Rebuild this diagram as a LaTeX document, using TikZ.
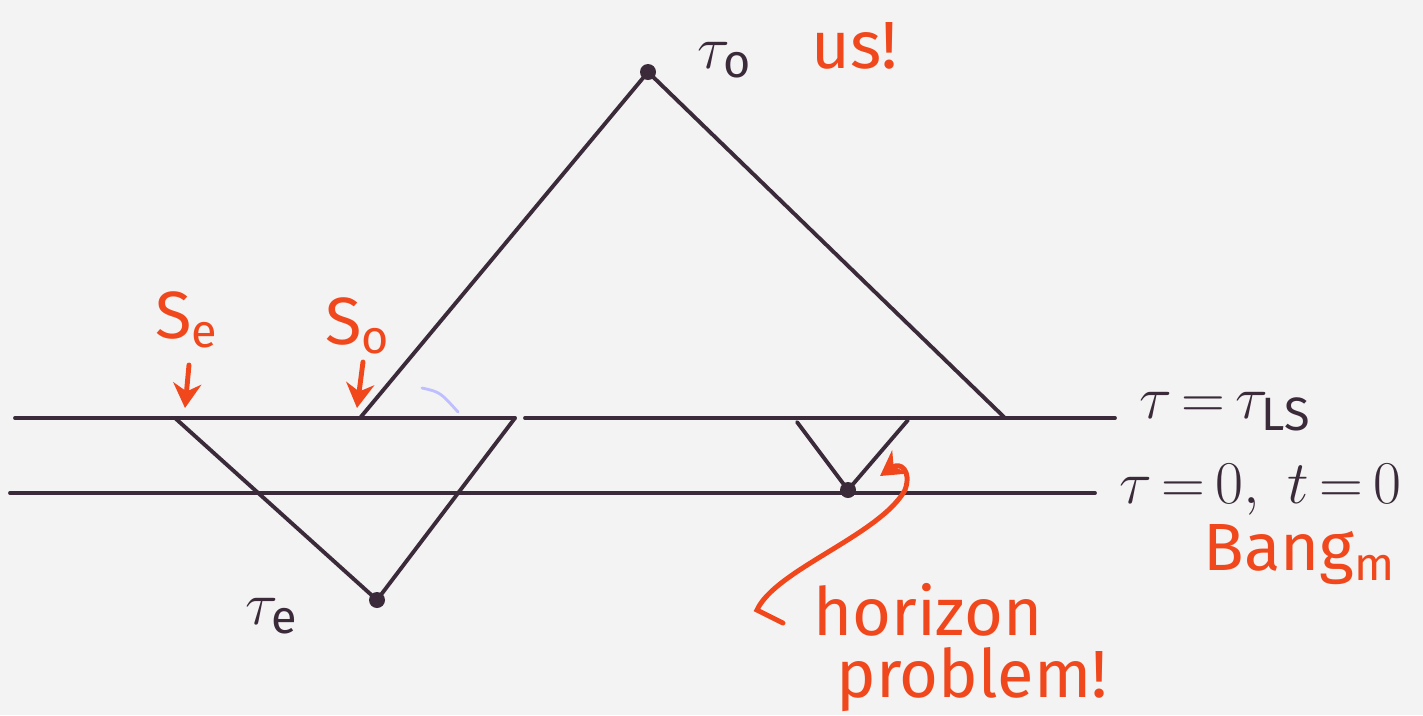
\documentclass[tikz,border=0pt]{standalone}
\usepackage{fontspec}
\setmainfont{Fira Sans}
\usetikzlibrary{arrows.meta,calc}
\definecolor{ink}{HTML}{3B2B3A}
\definecolor{pen}{HTML}{F0481C}
\definecolor{paper}{HTML}{F3F3F3}
\tikzset{
  wl/.style={draw=ink, line width=1.1pt, line cap=round},
  dot/.style={circle, fill=ink, inner sep=0pt, minimum size=0.16cm},
  blk/.style={text=ink, font=\fontsize{19}{21}\selectfont, inner sep=1pt},
  red/.style={text=pen, font=\fontsize{19}{21}\selectfont, inner sep=1pt},
  redarr/.style={draw=pen, line width=1.4pt, line cap=round, -{Stealth[length=7pt,width=8pt]}},
}
\begin{document}
\begin{tikzpicture}[x=1cm,y=1cm]
\useasboundingbox (0,0) rectangle (14.23,-7.15);
\fill[paper] (0,0) rectangle (14.23,-7.15);
% horizontal lines
\coordinate (ul) at (0.15,-4.18);
\coordinate (ug1) at (5.15,-4.18);
\coordinate (ug2) at (5.25,-4.18);
\coordinate (ur) at (11.15,-4.18);
\coordinate (ll) at (0.10,-4.93);
\coordinate (lr) at (10.95,-4.93);
\draw[wl] (ul) -- (ug1);
\draw[wl] (ug2) -- (ur);
\draw[wl] (ll) -- (lr);
% points
\node[dot] (t0) at (6.48,-0.72) {};
\node[dot] (te) at (3.77,-6.00) {};
\node[dot] (bh) at (8.48,-4.90) {};
\coordinate (so) at (3.60,-4.18);
\coordinate (sr) at (10.05,-4.18);
\coordinate (se) at (1.75,-4.18);
\coordinate (tr) at (5.15,-4.18);
\coordinate (va) at (7.97,-4.22);
\coordinate (vb) at (9.08,-4.20);
% light cones
\draw[wl] (so) -- (t0.center) -- (sr);
\draw[wl] (se) -- (te.center) -- (tr);
\draw[wl] (va) -- (bh.center) -- (vb);
% faint pencil stroke
\draw[blue!25, line width=0.8pt, line cap=round] (4.22,-3.88) .. controls (4.40,-3.92) .. (4.58,-4.12);
% labels
\node[blk] (lt0) at (7.25,-0.60) {$\tau_{\mathrm{o}}$};
\node[red] (lus) at (8.55,-0.46) {us!};
\node[red] (lse) at (1.87,-3.20) {S$_\mathrm{e}$};
\node[red] (lso) at (3.58,-3.26) {S$_\mathrm{o}$};
\node[blk, anchor=west] (lls) at (11.35,-4.12) {$\tau\,{=}\,\tau_{\mathrm{LS}}$};
\node[blk, anchor=west] (lz) at (11.15,-4.90) {$\tau\,{=}\,0,\ t\,{=}\,0$};
\node[red] (lbang) at (13.00,-5.55) {Bang$_\mathrm{m}$};
\node[blk] (lte) at (2.72,-6.16) {$\tau_{\mathrm{e}}$};
\node[red, inner sep=0pt] (lhor) at (9.28,-6.10) {horizon};
\node[red, inner sep=0pt] (lprob) at (9.72,-6.80) {problem!};
% arrows
\coordinate (ase) at (1.89,-3.65);
\coordinate (aso) at (3.63,-3.62);
\draw[redarr] (ase) -- ($(se)+(0.10,0.10)$);
\draw[redarr] (aso) -- ($(so)+(-0.03,0.10)$);
\coordinate (hk) at (7.83,-6.23);
\coordinate (hl) at (7.57,-6.10);
\coordinate (htip) at (8.80,-4.76);
\draw[redarr] (hk) -- (hl) .. controls (7.75,-5.70) and (8.80,-5.35) .. (9.05,-4.90)
  .. controls (9.12,-4.70) and (9.00,-4.62) .. (htip);
\end{tikzpicture}
\end{document}
